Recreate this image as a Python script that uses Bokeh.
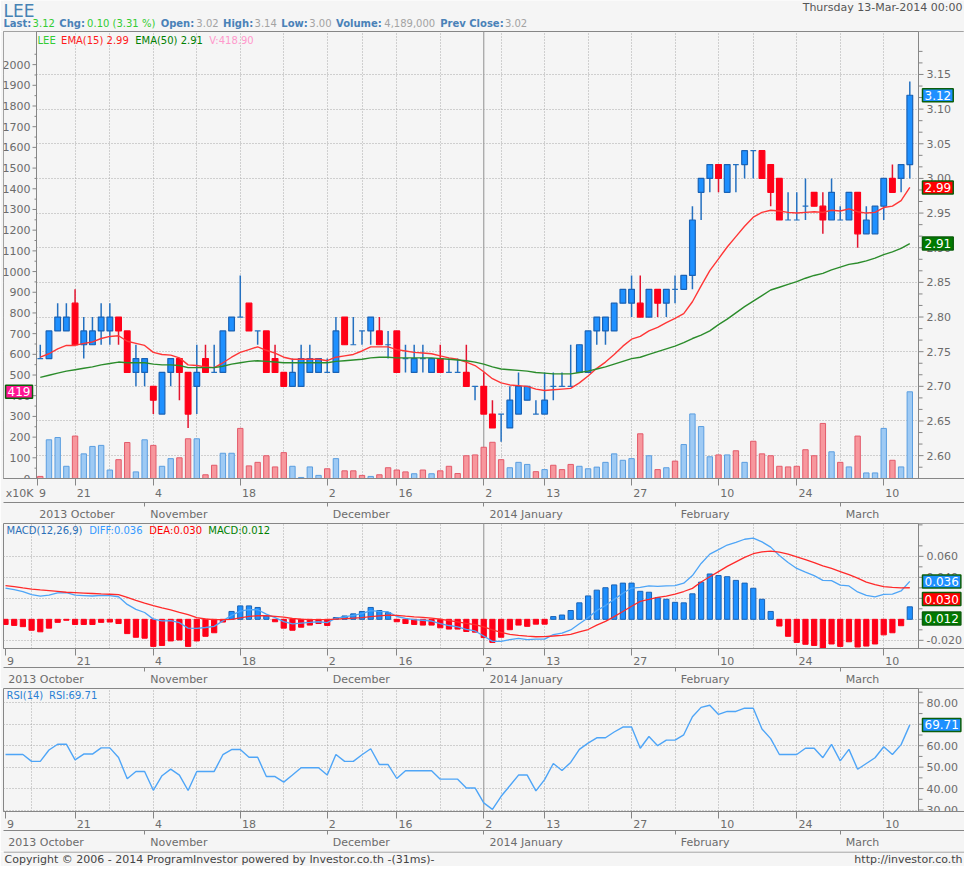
from bokeh.plotting import figure
from bokeh.models import Range1d, LinearAxis, FixedTicker, Span, Label, Grid
from bokeh.layouts import column
from bokeh.embed import file_html
from bokeh.resources import INLINE
from bokeh.core.properties import value

# ---------------------------------------------------------------- data
SYMBOL = "LEE"
DATE_TEXT = "Thursday 13-Mar-2014 00:00"
FIRST_SESSION = 4          # session index of the first candle shown in the price panel

OPEN = [2.74, 2.74, 2.78, 2.78, 2.82, 2.76, 2.76, 2.78, 2.78, 2.80,
        2.78, 2.72, 2.72, 2.70, 2.66, 2.72, 2.74, 2.72, 2.70, 2.74,
        2.72, 2.72, 2.78, 2.80, 2.82, 2.78, 2.78, 2.74, 2.72, 2.70,
        2.70, 2.72, 2.72, 2.72, 2.72, 2.80, 2.76, 2.78, 2.78, 2.78,
        2.76, 2.78, 2.74, 2.72, 2.74, 2.72, 2.74, 2.72, 2.72, 2.72,
        2.70, 2.70, 2.66, 2.66, 2.64, 2.66, 2.68, 2.66, 2.66, 2.70,
        2.70, 2.70, 2.72, 2.72, 2.78, 2.78, 2.78, 2.82, 2.82, 2.82,
        2.80, 2.84, 2.82, 2.84, 2.84, 2.86, 2.98, 3.00, 3.02, 2.98,
        3.02, 3.02, 3.04, 3.04, 3.02, 3.00, 2.94, 2.94, 2.96, 2.98,
        2.96, 2.94, 2.94, 2.94, 2.98, 2.92, 2.92, 2.96, 3.00, 3.00, 3.02]
HIGH = [2.76, 2.78, 2.82, 2.82, 2.84, 2.80, 2.80, 2.82, 2.82, 2.80,
        2.78, 2.76, 2.74, 2.70, 2.72, 2.74, 2.74, 2.72, 2.76, 2.76,
        2.76, 2.78, 2.80, 2.86, 2.82, 2.78, 2.78, 2.76, 2.72, 2.74,
        2.76, 2.76, 2.74, 2.74, 2.80, 2.80, 2.80, 2.78, 2.80, 2.80,
        2.78, 2.78, 2.76, 2.76, 2.76, 2.74, 2.76, 2.74, 2.74, 2.76,
        2.70, 2.72, 2.68, 2.66, 2.70, 2.72, 2.70, 2.68, 2.72, 2.72,
        2.72, 2.76, 2.76, 2.78, 2.80, 2.80, 2.82, 2.84, 2.86, 2.86,
        2.84, 2.84, 2.84, 2.86, 2.86, 2.96, 3.00, 3.02, 3.02, 3.02,
        3.02, 3.04, 3.04, 3.04, 3.02, 3.00, 2.98, 2.98, 3.00, 2.98,
        2.98, 3.00, 2.96, 2.98, 2.98, 2.96, 2.96, 3.00, 3.02, 3.02, 3.14]
LOW = [2.74, 2.74, 2.78, 2.78, 2.76, 2.74, 2.76, 2.76, 2.76, 2.76,
       2.72, 2.70, 2.70, 2.66, 2.66, 2.70, 2.68, 2.64, 2.66, 2.72,
       2.72, 2.72, 2.78, 2.80, 2.78, 2.76, 2.72, 2.72, 2.70, 2.70,
       2.70, 2.72, 2.72, 2.72, 2.72, 2.76, 2.76, 2.76, 2.76, 2.76,
       2.74, 2.72, 2.72, 2.72, 2.72, 2.72, 2.72, 2.72, 2.72, 2.70,
       2.68, 2.66, 2.64, 2.62, 2.64, 2.66, 2.68, 2.66, 2.66, 2.68,
       2.70, 2.70, 2.72, 2.72, 2.76, 2.76, 2.78, 2.82, 2.80, 2.80,
       2.80, 2.80, 2.80, 2.82, 2.84, 2.84, 2.94, 2.98, 2.98, 2.98,
       2.98, 3.00, 3.00, 3.00, 2.96, 2.94, 2.94, 2.94, 2.94, 2.96,
       2.92, 2.94, 2.94, 2.94, 2.90, 2.92, 2.92, 2.94, 2.98, 2.98, 3.00]
CLOSE = [2.74, 2.78, 2.80, 2.80, 2.76, 2.78, 2.78, 2.80, 2.80, 2.78,
         2.72, 2.74, 2.74, 2.68, 2.72, 2.74, 2.72, 2.66, 2.72, 2.72,
         2.72, 2.78, 2.80, 2.80, 2.78, 2.78, 2.72, 2.72, 2.70, 2.72,
         2.74, 2.74, 2.74, 2.72, 2.78, 2.76, 2.76, 2.78, 2.80, 2.76,
         2.76, 2.72, 2.74, 2.74, 2.74, 2.74, 2.72, 2.72, 2.72, 2.70,
         2.70, 2.66, 2.64, 2.66, 2.68, 2.70, 2.70, 2.66, 2.68, 2.70,
         2.70, 2.70, 2.76, 2.78, 2.80, 2.80, 2.82, 2.84, 2.84, 2.80,
         2.84, 2.82, 2.84, 2.84, 2.86, 2.94, 3.00, 3.02, 3.00, 3.02,
         3.02, 3.04, 3.04, 3.00, 2.98, 2.94, 2.94, 2.94, 2.96, 2.96,
         2.94, 2.98, 2.94, 2.98, 2.92, 2.94, 2.96, 3.00, 2.98, 3.02, 3.12]
VOLUME = [10, 187, 198, 59, 205, 119, 155, 160, 41, 91,      # x10K shares
          174, 32, 187, 160, 59, 96, 100, 192, 192, 18,
          64, 122, 122, 242, 61, 78, 110, 56, 125, 59,
          5, 56, 15, 47, 96, 37, 37, 15, 10, 18,
          52, 41, 32, 23, 41, 23, 37, 59, 24, 110,
          114, 151, 175, 91, 52, 78, 68, 33, 43, 64,
          43, 68, 59, 47, 55, 78, 119, 88, 96, 216,
          110, 43, 52, 84, 164, 312, 251, 105, 114, 114,
          134, 78, 180, 119, 110, 59, 56, 59, 139, 110,
          266, 129, 78, 56, 205, 27, 27, 242, 88, 56, 418.9]
EMA15 = [2.742, 2.747, 2.754, 2.759, 2.759, 2.762, 2.764, 2.769, 2.772, 2.773,
         2.765, 2.762, 2.759, 2.749, 2.746, 2.745, 2.741, 2.731, 2.730, 2.728,
         2.727, 2.734, 2.742, 2.749, 2.753, 2.757, 2.752, 2.748, 2.742, 2.739,
         2.739, 2.739, 2.739, 2.737, 2.742, 2.744, 2.746, 2.751, 2.757, 2.757,
         2.757, 2.753, 2.751, 2.749, 2.748, 2.747, 2.744, 2.741, 2.739, 2.735,
         2.730, 2.721, 2.711, 2.705, 2.702, 2.701, 2.700, 2.696, 2.694, 2.695,
         2.696, 2.697, 2.705, 2.715, 2.726, 2.735, 2.746, 2.758, 2.768, 2.772,
         2.780, 2.785, 2.792, 2.798, 2.805, 2.822, 2.845, 2.867, 2.884, 2.901,
         2.916, 2.931, 2.944, 2.951, 2.954, 2.953, 2.951, 2.950, 2.951, 2.952,
         2.951, 2.954, 2.953, 2.956, 2.952, 2.950, 2.951, 2.958, 2.960, 2.968, 2.987]
EMA50 = [2.713, 2.716, 2.719, 2.722, 2.724, 2.726, 2.728, 2.731, 2.733, 2.735,
         2.734, 2.734, 2.734, 2.732, 2.731, 2.731, 2.730, 2.727, 2.727, 2.727,
         2.727, 2.729, 2.732, 2.734, 2.736, 2.737, 2.736, 2.735, 2.734, 2.734,
         2.734, 2.734, 2.734, 2.734, 2.736, 2.737, 2.738, 2.739, 2.741, 2.742,
         2.742, 2.741, 2.741, 2.741, 2.741, 2.741, 2.740, 2.739, 2.738, 2.737,
         2.735, 2.732, 2.728, 2.725, 2.724, 2.723, 2.722, 2.720, 2.719, 2.718,
         2.718, 2.718, 2.720, 2.722, 2.725, 2.728, 2.732, 2.736, 2.740, 2.742,
         2.746, 2.750, 2.754, 2.758, 2.763, 2.769, 2.774, 2.780, 2.789, 2.797,
         2.806, 2.815, 2.823, 2.831, 2.839, 2.843, 2.847, 2.851, 2.856, 2.860,
         2.863, 2.868, 2.872, 2.876, 2.878, 2.881, 2.885, 2.890, 2.894, 2.899, 2.906]

# indicator panels start at session 0 (9 Oct 2013)
MACD_DIFF = [0.0298, 0.0282, 0.0264, 0.0236, 0.0221, 0.0231, 0.0252, 0.0254, 0.0230, 0.0226,
             0.0222, 0.0228, 0.0226, 0.0215, 0.0142, 0.0095, 0.0065, 0.0002, -0.0015, -0.0013,
             -0.0032, -0.0084, -0.0087, -0.0078, -0.0067, -0.0015, 0.0038, 0.0078, 0.0092, 0.0091,
             0.0050, 0.0017, -0.0022, -0.0044, -0.0036, -0.0030, -0.0023, -0.0032, 0.0011, 0.0023,
             0.0038, 0.0055, 0.0082, 0.0075, 0.0072, 0.0027, 0.0010, -0.0002, -0.0009, -0.0016,
             -0.0040, -0.0059, -0.0072, -0.0096, -0.0111, -0.0159, -0.0210, -0.0211, -0.0193, -0.0181,
             -0.0194, -0.0189, -0.0188, -0.0146, -0.0132, -0.0101, -0.0042, 0.0015, 0.0084, 0.0131,
             0.0190, 0.0248, 0.0298, 0.0305, 0.0319, 0.0313, 0.0318, 0.0322, 0.0344, 0.0417,
             0.0532, 0.0621, 0.0664, 0.0708, 0.0734, 0.0763, 0.0773, 0.0738, 0.0688, 0.0608,
             0.0541, 0.0485, 0.0449, 0.0416, 0.0371, 0.0368, 0.0326, 0.0318, 0.0261, 0.0228,
             0.0213, 0.0238, 0.0241, 0.0270, 0.0361]
MACD_DEA = [0.0322, 0.0311, 0.0299, 0.0288, 0.0280, 0.0273, 0.0266, 0.0258, 0.0254, 0.0250,
            0.0246, 0.0242, 0.0239, 0.0235, 0.0210, 0.0180, 0.0155, 0.0131, 0.0110, 0.0090,
            0.0067, 0.0045, 0.0016, 0.0003, -0.0003, -0.0002, 0.0000, 0.0014, 0.0028, 0.0034,
            0.0034, 0.0028, 0.0020, 0.0008, 0.0002, -0.0002, -0.0003, -0.0003, 0.0002, 0.0007,
            0.0012, 0.0017, 0.0025, 0.0033, 0.0040, 0.0038, 0.0030, 0.0023, 0.0019, 0.0012,
            0.0001, -0.0012, -0.0025, -0.0038, -0.0050, -0.0072, -0.0100, -0.0125, -0.0143, -0.0153,
            -0.0160, -0.0166, -0.0165, -0.0159, -0.0152, -0.0143, -0.0120, -0.0097, -0.0055, -0.0020,
            0.0026, 0.0075, 0.0125, 0.0171, 0.0190, 0.0210, 0.0222, 0.0241, 0.0265, 0.0295,
            0.0355, 0.0405, 0.0455, 0.0505, 0.0548, 0.0590, 0.0625, 0.0642, 0.0650, 0.0640,
            0.0622, 0.0595, 0.0568, 0.0540, 0.0510, 0.0485, 0.0455, 0.0425, 0.0393, 0.0355,
            0.0330, 0.0312, 0.0305, 0.0300, 0.0301]
MACD_HIST = [-0.0049, -0.0058, -0.0070, -0.0104, -0.0119, -0.0084, -0.0029, -0.0009, -0.0049, -0.0049,
             -0.0049, -0.0029, -0.0026, -0.0040, -0.0136, -0.0171, -0.0180, -0.0258, -0.0249, -0.0206,
             -0.0197, -0.0258, -0.0206, -0.0162, -0.0128, -0.0026, 0.0075, 0.0128, 0.0128, 0.0113,
             0.0032, -0.0023, -0.0084, -0.0104, -0.0075, -0.0055, -0.0040, -0.0058, 0.0017, 0.0032,
             0.0052, 0.0075, 0.0113, 0.0084, 0.0064, -0.0023, -0.0040, -0.0049, -0.0055, -0.0055,
             -0.0081, -0.0093, -0.0093, -0.0116, -0.0122, -0.0174, -0.0220, -0.0171, -0.0099, -0.0055,
             -0.0067, -0.0046, -0.0046, 0.0026, 0.0041, 0.0084, 0.0157, 0.0223, 0.0278, 0.0301,
             0.0328, 0.0345, 0.0345, 0.0267, 0.0258, 0.0206, 0.0191, 0.0162, 0.0157, 0.0243,
             0.0354, 0.0432, 0.0417, 0.0406, 0.0371, 0.0345, 0.0296, 0.0191, 0.0075, -0.0064,
             -0.0162, -0.0220, -0.0238, -0.0249, -0.0278, -0.0235, -0.0258, -0.0214, -0.0264, -0.0255,
             -0.0235, -0.0148, -0.0128, -0.0061, 0.0119]
RSI14 = [55.9, 55.9, 55.9, 52.7, 52.7, 58.0, 60.7, 60.7, 53.4, 56.1,
         56.1, 59.0, 59.0, 54.5, 44.6, 48.0, 48.0, 39.2, 46.0, 49.1,
         46.3, 39.1, 48.0, 48.0, 48.0, 55.8, 58.2, 58.2, 54.6, 54.6,
         45.6, 45.6, 43.0, 46.3, 49.7, 49.7, 49.7, 46.3, 55.9, 52.7,
         52.7, 55.8, 58.6, 51.2, 51.2, 44.7, 48.3, 48.3, 48.3, 48.3,
         44.4, 44.4, 44.4, 40.3, 40.3, 33.3, 30.3, 36.4, 41.3, 46.3,
         46.3, 38.9, 44.2, 51.7, 48.4, 52.2, 58.3, 61.2, 63.7, 63.7,
         66.4, 68.7, 68.7, 58.8, 64.3, 60.0, 62.6, 62.6, 65.1, 73.5,
         77.9, 78.9, 74.6, 76.0, 76.0, 77.5, 77.5, 67.8, 63.3, 55.9,
         55.9, 55.9, 58.8, 58.8, 54.4, 60.6, 52.9, 58.3, 49.0, 51.7,
         54.4, 59.5, 55.9, 60.5, 69.71]

DAY_TICK_IDX = [0, 8, 17, 27, 37, 45, 55, 62, 72, 82, 91, 101]
DAY_TICK_LBL = ["9", "21", "4", "18", "2", "16", "2", "13", "27", "10", "24", "10"]
WEEK_IDX = [3, 8, 12, 17, 22, 27, 32, 37, 41, 45, 50, 57, 62, 67, 72, 77, 82, 86, 91, 96, 101]
YEAR_IDX = 55
MONTH_IDX = [0, 16, 37, 55, 77, 96]
MONTH_LBL = ["2013 October", "November", "December", "2014 January", "February", "March"]

PRICE_TICKS = [2.60, 2.65, 2.70, 2.75, 2.80, 2.85, 2.90, 2.95, 3.00, 3.05, 3.10, 3.15]
VOL_TICKS = list(range(0, 2001, 100))
MACD_TICKS = [-0.02, 0.0, 0.02, 0.04, 0.06]
RSI_TICKS = [30, 40, 50, 60, 70, 80]

# ---------------------------------------------------------------- style / layout
W = 964
BG = "#f5f5f5"
EDGE = "#868686"
GRID = "#a8a8a8"
TICKTXT = "#6c6c6c"
FONT = "DejaVu Sans"
I0, I1 = -0.23, 105.0          # index range between left frame edge (px 3) and value axis line (px 918)
AXIS_PX = 918
PPX = (AXIS_PX - 3) / (I1 - I0)
XEND = I0 + (W - 3) / PPX
XS_TOP = I0 + (36 - 3) / PPX   # volume axis line of the price panel
AXH = 30

CW = {' ': .318, '.': .318, ',': .318, ':': .337, '(': .390, ')': .390, '%': .950, '-': .361,
      '/': .337, '\u00a9': 1.0}
for _d in "0123456789":
    CW[_d] = .636
CW.update(dict(A=.684, B=.686, C=.698, D=.770, E=.632, F=.575, G=.775, H=.752, I=.295, J=.295,
               K=.656, L=.557, M=.863, N=.748, O=.787, P=.603, Q=.787, R=.695, S=.635, T=.611,
               U=.732, V=.684, W=.989, X=.685, Y=.611, Z=.685))
CW.update(dict(a=.613, b=.635, c=.550, d=.635, e=.615, f=.352, g=.635, h=.634, i=.278, j=.278,
               k=.579, l=.278, m=.974, n=.634, o=.612, p=.635, q=.635, r=.411, s=.521, t=.392,
               u=.634, v=.592, w=.818, x=.592, y=.592, z=.525))


def tw(s, size=11, bold=False):
    return sum(CW.get(ch, 0.6) for ch in s) * size * (1.12 if bold else 1.02)


def style_axis(ax, major_out, minor_out):
    ax.axis_line_color = EDGE
    ax.major_tick_line_color = EDGE if major_out else None
    ax.major_tick_out = major_out
    ax.major_tick_in = 0
    ax.minor_tick_line_color = EDGE if minor_out else None
    ax.minor_tick_out = minor_out
    ax.minor_tick_in = 0
    ax.major_label_text_font = FONT
    ax.major_label_text_font_size = "11px"
    ax.major_label_text_color = TICKTXT


def panel(h, yr, y_ticks, top=False):
    p = figure(width=W, height=h, x_range=Range1d(I0, XEND), y_range=yr, y_axis_type=None,
               title=None, toolbar_location=None, output_backend="svg",
               min_border_left=3, min_border_right=0, min_border_top=0, min_border_bottom=AXH,
               background_fill_color=BG, border_fill_color=BG, outline_line_color=EDGE)
    p.add_layout(Grid(dimension=1, ticker=FixedTicker(ticks=y_ticks), grid_line_color=GRID,
                      grid_line_dash="1 2"))
    p.xgrid.ticker = FixedTicker(ticks=WEEK_IDX)
    p.xgrid.grid_line_color = GRID
    p.xgrid.grid_line_dash = "1 2"
    yl = Span(location=YEAR_IDX, dimension="height", line_color="#a0a0a0", line_width=1.2)
    yl.level = "underlay"
    p.add_layout(yl)

    first = XS_TOP if top else I0
    # day row
    pos, centers, labels = [], [], []
    for t, lbl in zip(DAY_TICK_IDX, DAY_TICK_LBL):
        t2 = t if t >= first else first + 1.0 / PPX
        pos.append(t2)
        centers.append(round(t2 + (1.5 + tw(lbl) / 2) / PPX, 3))
        labels.append(lbl)
    if top:
        centers.append(round(I0 + 16.0 / PPX, 3))
        labels.append("x10K")
    dax = p.xaxis[0]
    dax.ticker = FixedTicker(ticks=centers, minor_ticks=pos)
    dax.major_label_overrides = dict(zip(centers, labels))
    style_axis(dax, 0, 7)
    dax.major_label_standoff = 1

    # month row
    mcent = []
    for k, (b, lbl) in enumerate(zip(MONTH_IDX, MONTH_LBL)):
        start = max(b, first) + (2.0 if k == 0 else 5.0) / PPX
        mcent.append(round(start + tw(lbl) / 2 / PPX, 3))
    mx = LinearAxis(ticker=FixedTicker(ticks=mcent, minor_ticks=MONTH_IDX[1:]),
                    major_label_overrides=dict(zip(mcent, MONTH_LBL)))
    style_axis(mx, 0, 4)
    mx.major_label_standoff = 1
    p.add_layout(mx, "below")
    return p


def price_axis(p, yr, ticks, minors, fmt):
    """value axis drawn at the right edge of the data area (px 918)"""
    p.quad(left=[I1], right=[XEND], bottom=[yr.start], top=[yr.end], fill_color=BG, line_color=None)
    p.add_layout(Span(location=I1, dimension="height", line_color=EDGE, line_width=1))
    p.segment(x0=[I1] * len(ticks), y0=ticks, x1=[I1 + 5 / PPX] * len(ticks), y1=ticks,
              line_color=EDGE, line_width=1)
    p.segment(x0=[I1] * len(minors), y0=minors, x1=[I1 + 4 / PPX] * len(minors), y1=minors,
              line_color=EDGE, line_width=1)
    p.text(x=[I1 + 8 / PPX] * len(ticks), y=ticks, text=[fmt % v for v in ticks], text_color=TICKTXT,
           text_font=value(FONT), text_font_size="11px", text_baseline="middle", text_align="left")


def legend_row(p, h, y_off, parts, x0, size=10, gap=5):
    fh = h - AXH
    xr, yr = p.x_range, p.y_range
    y = yr.end - y_off * (yr.end - yr.start) / fh
    xs, ts, cs = [], [], []
    cur = x0
    for t, c in parts:
        xs.append(xr.start + cur / PPX)
        ts.append(t)
        cs.append(c)
        cur += tw(t, size) + gap
    p.text(x=xs, y=[y] * len(xs), text=ts, text_color=cs, text_font=value(FONT),
           text_font_size="%dpx" % size, text_baseline="middle", text_align="left")


def value_box(p, x, y, text, fill, align="left", y_range_name="default"):
    p.add_layout(Label(x=x, y=y, text=text, x_offset=4 if align == "left" else -4,
                       y_range_name=y_range_name, text_align=align, text_baseline="middle",
                       text_color="white", text_font=FONT, text_font_size="12px",
                       background_fill_color=fill, border_line_color="#0b5e0b", border_line_width=1.5,
                       padding=2))


# ---------------------------------------------------------------- header
HDR_H = 31
hdr = figure(width=W, height=HDR_H, x_range=Range1d(3, W), y_range=Range1d(HDR_H, 0), title=None,
             toolbar_location=None, output_backend="svg", x_axis_type=None, y_axis_type=None,
             min_border_left=3, min_border_right=0, min_border_top=0, min_border_bottom=0,
             background_fill_color=BG, border_fill_color=BG, outline_line_color=None)
LBLC, GRN, GRYV = "#4a82b8", "#33cc33", "#a3a3a3"
hdr.text(x=[3], y=[10], text=[SYMBOL], text_color="#4682b4", text_font=value(FONT),
         text_font_size="17px", text_baseline="middle")
hdr.text(x=[W - 2], y=[7], text=[DATE_TEXT], text_color="#555555", text_font=value(FONT),
         text_font_size="11px", text_baseline="middle", text_align="right")
last, prev = CLOSE[-1], CLOSE[-2]
chg = last - prev
hparts = [("Last:", LBLC, True), ("%.2f" % last, GRN, False),
          ("Chg:", LBLC, True), ("%.2f (%.2f %%)" % (chg, chg / prev * 100), GRN, False),
          ("Open:", LBLC, True), ("%.2f" % OPEN[-1], GRYV, False),
          ("High:", LBLC, True), ("%.2f" % HIGH[-1], GRYV, False),
          ("Low:", LBLC, True), ("%.2f" % LOW[-1], GRYV, False),
          ("Volume:", LBLC, True), ("{:,}".format(int(round(VOLUME[-1] * 10000))), GRYV, False),
          ("Prev Close:", LBLC, True), ("%.2f" % prev, GRYV, False)]
cur = 3
for t, c, b in hparts:
    hdr.text(x=[cur], y=[22.5], text=[t], text_color=c, text_font=value(FONT), text_font_size="10px",
             text_font_style="bold" if b else "normal", text_baseline="middle")
    cur += tw(t, 10, b) + (2 if b else 4)

# ---------------------------------------------------------------- price + volume panel
TOP_H = 492
PR = Range1d(2.567, 3.212)
VR = Range1d(0, 2160)
p_minor = [round(2.55 + k / 60.0, 4) for k in range(42) if k % 3 and 2.567 < 2.55 + k / 60.0 < 3.212]
p1 = panel(TOP_H, PR, PRICE_TICKS, top=True)
p1.extra_y_ranges = {"vol": VR}

xp = list(range(FIRST_SESSION, FIRST_SESSION + len(CLOSE)))
up = [c > o for o, c in zip(OPEN, CLOSE)]
dn = [c < o for o, c in zip(OPEN, CLOSE)]
p1.vbar(x=xp, top=VOLUME, bottom=0, width=0.62, y_range_name="vol",
        fill_color=["#9ecaf4" if u else "#f7979d" for u in up],
        line_color=["#5b9ee0" if u else "#e35b6b" for u in up], line_width=1)
p1.segment(x0=xp, y0=LOW, x1=xp, y1=HIGH, line_width=1.5,
           line_color=["#e3142f" if d else "#2470c0" for d in dn])
p1.vbar(x=xp, top=[max(o, c) for o, c in zip(OPEN, CLOSE)], bottom=[min(o, c) for o, c in zip(OPEN, CLOSE)],
        width=0.66, fill_color=["#ff0018" if d else "#1e90ff" for d in dn],
        line_color=["#ff0018" if d else ("#1a62b4" if u else "#2470c0") for u, d in zip(up, dn)],
        line_width=1.2)
p1.line(xp, EMA15, line_color="#ff3636", line_width=1.4)
p1.line(xp, EMA50, line_color="#2b8c2b", line_width=1.4)

# volume axis (left, inside the panel area like the original)
p1.quad(left=[I0], right=[XS_TOP], bottom=[PR.start], top=[PR.end], fill_color=BG, line_color=None)
p1.add_layout(Span(location=XS_TOP, dimension="height", line_color=EDGE, line_width=1))
vmin = list(range(50, 2101, 100))
p1.segment(x0=[XS_TOP - 4 / PPX] * len(VOL_TICKS), y0=VOL_TICKS, x1=[XS_TOP] * len(VOL_TICKS), y1=VOL_TICKS,
           line_color=EDGE, y_range_name="vol")
p1.segment(x0=[XS_TOP - 2 / PPX] * len(vmin), y0=vmin, x1=[XS_TOP] * len(vmin), y1=vmin,
           line_color=EDGE, y_range_name="vol")
p1.text(x=[XS_TOP - 6 / PPX] * len(VOL_TICKS), y=VOL_TICKS, text=[str(v) for v in VOL_TICKS],
        text_color=TICKTXT, text_font=value(FONT), text_font_size="11px", text_baseline="middle",
        text_align="right", y_range_name="vol")
price_axis(p1, PR, PRICE_TICKS, p_minor, "%.2f")

legend_row(p1, TOP_H, 9, [(SYMBOL, "#33cc33"), ("EMA(15) %.2f" % EMA15[-1], "#ff1a1a"),
                          ("EMA(50) %.2f" % EMA50[-1], "#008000"), ("V:%.2f" % VOLUME[-1], "#ff99cc")], 34)
value_box(p1, I1, CLOSE[-1], "%.2f" % CLOSE[-1], "#1e90ff")
value_box(p1, I1, EMA15[-1], "%.2f" % EMA15[-1], "#ff0000")
value_box(p1, I1, EMA50[-1], "%.2f" % EMA50[-1], "#007a00")
value_box(p1, XS_TOP, VOLUME[-1], "%.0f" % VOLUME[-1], "#ff1493", align="right", y_range_name="vol")

# ---------------------------------------------------------------- MACD panel
MACD_H = 165
MR = Range1d(-0.0278, 0.0913)
p2 = panel(MACD_H, MR, MACD_TICKS)
xi = list(range(len(MACD_HIST)))
p2.vbar(x=xi, top=MACD_HIST, bottom=0, width=0.6,
        fill_color=["#1e90ff" if v >= 0 else "#ff0018" for v in MACD_HIST],
        line_color=["#1a62b4" if v >= 0 else "#ff0018" for v in MACD_HIST], line_width=1)
p2.line(xi, MACD_DIFF, line_color="#4ea5f7", line_width=1.3)
p2.line(xi, MACD_DEA, line_color="#ff2a2a", line_width=1.3)
price_axis(p2, MR, MACD_TICKS, [-0.01, 0.01, 0.03, 0.05, 0.07, 0.09], "%.3f")
legend_row(p2, MACD_H, 8, [("MACD(12,26,9)", "#2a6fb8"), ("DIFF:%.3f" % MACD_DIFF[-1], "#3399ff"),
                           ("DEA:%.3f" % MACD_DEA[-1], "#ff0000"), ("MACD:%.3f" % MACD_HIST[-1], "#008000")], 3)
dpp = (MR.end - MR.start) / (MACD_H - AXH)
value_box(p2, I1, MACD_DIFF[-1], "%.3f" % MACD_DIFF[-1], "#1e90ff")
value_box(p2, I1, MACD_DIFF[-1] - 19 * dpp, "%.3f" % MACD_DEA[-1], "#ff0000")
value_box(p2, I1, MACD_DIFF[-1] - 40 * dpp, "%.3f" % MACD_HIST[-1], "#007a00")

# ---------------------------------------------------------------- RSI panel
RSI_H = 163
RR = Range1d(29.3, 86.7)
p3 = panel(RSI_H, RR, RSI_TICKS)
p3.line(xi, RSI14, line_color="#4ea5f7", line_width=1.4)
price_axis(p3, RR, RSI_TICKS, [35, 45, 55, 65, 75, 85], "%.2f")
legend_row(p3, RSI_H, 8, [("RSI(14)", "#2a7fd4"), ("RSI:%.2f" % RSI14[-1], "#2a7fd4")], 3)
value_box(p3, I1, RSI14[-1], "%.2f" % RSI14[-1], "#1e90ff")

# ---------------------------------------------------------------- footer
FT_H = 15
ftr = figure(width=W, height=FT_H, x_range=Range1d(3, W), y_range=Range1d(FT_H, 0), title=None,
             toolbar_location=None, output_backend="svg", x_axis_type=None, y_axis_type=None,
             min_border_left=3, min_border_right=0, min_border_top=0, min_border_bottom=0,
             background_fill_color=BG, border_fill_color=BG, outline_line_color=None)
ftr.segment(x0=[3], y0=[0.5], x1=[W], y1=[0.5], line_color=EDGE, line_width=1)
ftr.text(x=[4], y=[8], text=["Copyright \u00a9 2006 - 2014 ProgramInvestor powered by Investor.co.th -(31ms)-"],
         text_color="#444444", text_font=value(FONT), text_font_size="11px", text_baseline="middle")
ftr.text(x=[W - 2], y=[8], text=["http://investor.co.th"], text_color="#444444", text_font=value(FONT),
         text_font_size="11px", text_baseline="middle", text_align="right")

layout = column(hdr, p1, p2, p3, ftr, spacing=0)
open("out.html", "w").write(file_html(layout, INLINE))
